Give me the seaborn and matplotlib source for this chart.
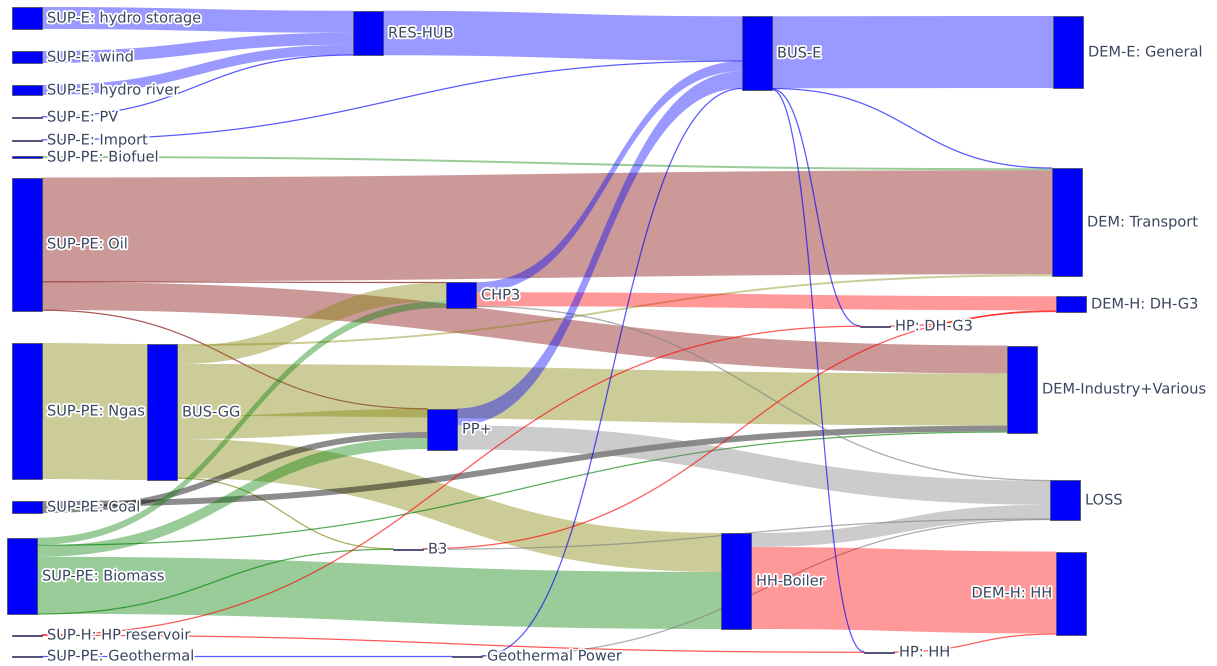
import numpy as np
import matplotlib
matplotlib.use('Agg')
import matplotlib.pyplot as plt
import matplotlib.patheffects as pe
import seaborn as sns

# ---- nodes ----
node_names = [
    'SUP-E: hydro storage', 'SUP-E: wind', 'SUP-E: hydro river', 'SUP-E: PV',
    'SUP-E: Import', 'SUP-PE: Biofuel', 'SUP-PE: Oil', 'SUP-PE: Ngas',
    'SUP-PE: Coal', 'SUP-PE: Biomass', 'SUP-H: HP reservoir', 'SUP-PE: Geothermal',
    'RES-HUB', 'BUS-GG', 'CHP3', 'PP+', 'B3', 'Geothermal Power',
    'BUS-E', 'HH-Boiler', 'HP: DH-G3', 'HP: HH',
    'DEM-E: General', 'DEM: Transport', 'DEM-H: DH-G3', 'DEM-Industry+Various',
    'LOSS', 'DEM-H: HH',
]
# node arrangement on the canvas (like plotly node.x / node.y), in pixels
node_left = [12, 12, 12, 12, 12, 12, 12, 12, 12, 7, 12, 12,
             353, 147, 446, 427, 393, 452,
             742, 721, 860, 864,
             1053, 1052, 1056, 1007, 1050, 1056]
node_center = [18, 57, 90, 117, 140, 157, 244, 411, 507, 576, 635, 656,
               33, 412, 295, 429, 549, 656,
               53, 581, 326, 652,
               52, 222, 304, 389, 500, 593]
label_left_side = ['DEM-H: HH']

# ---- links ----
link_source = [
    'SUP-E: hydro storage', 'SUP-E: wind', 'SUP-E: hydro river', 'SUP-E: PV',
    'RES-HUB', 'SUP-E: Import', 'SUP-PE: Biofuel',
    'SUP-PE: Oil', 'SUP-PE: Oil', 'SUP-PE: Oil', 'SUP-PE: Oil',
    'SUP-PE: Ngas',
    'BUS-GG', 'BUS-GG', 'BUS-GG', 'BUS-GG', 'BUS-GG', 'BUS-GG',
    'SUP-PE: Coal', 'SUP-PE: Coal',
    'SUP-PE: Biomass', 'SUP-PE: Biomass', 'SUP-PE: Biomass', 'SUP-PE: Biomass', 'SUP-PE: Biomass',
    'CHP3', 'CHP3', 'CHP3',
    'PP+', 'PP+',
    'B3', 'B3',
    'SUP-H: HP reservoir', 'SUP-H: HP reservoir',
    'SUP-PE: Geothermal', 'Geothermal Power', 'Geothermal Power',
    'HH-Boiler', 'HH-Boiler',
    'BUS-E', 'BUS-E', 'BUS-E', 'BUS-E',
    'HP: DH-G3', 'HP: HH',
]
link_target = [
    'RES-HUB', 'RES-HUB', 'RES-HUB', 'RES-HUB',
    'BUS-E', 'BUS-E', 'DEM: Transport',
    'DEM: Transport', 'CHP3', 'DEM-Industry+Various', 'PP+',
    'BUS-GG',
    'DEM: Transport', 'CHP3', 'DEM-Industry+Various', 'PP+', 'HH-Boiler', 'B3',
    'DEM-Industry+Various', 'PP+',
    'CHP3', 'DEM-Industry+Various', 'PP+', 'HH-Boiler', 'B3',
    'BUS-E', 'DEM-H: DH-G3', 'LOSS',
    'BUS-E', 'LOSS',
    'DEM-H: DH-G3', 'LOSS',
    'HP: DH-G3', 'HP: HH',
    'Geothermal Power', 'BUS-E', 'LOSS',
    'LOSS', 'DEM-H: HH',
    'DEM-E: General', 'DEM: Transport', 'HP: DH-G3', 'HP: HH',
    'DEM-H: DH-G3', 'DEM-H: HH',
]
link_value = [
    22, 12, 10, 0.5,
    44.5, 0.5, 2,
    104, 0.5, 28, 0.5,
    136,
    2, 18, 52, 23, 39, 0.5,
    6, 6,
    7, 1, 11, 57, 0.5,
    10, 14, 0.5,
    17, 24,
    0.5, 0.5,
    0.5, 0.5,
    1, 0.5, 0.5,
    14, 82,
    72, 0.5, 0.5, 0.5,
    1, 1,
]
link_kind = [
    'elec', 'elec', 'elec', 'elec',
    'elec', 'elec', 'bio',
    'oil', 'oil', 'oil', 'oil',
    'gas',
    'gas', 'gas', 'gas', 'gas', 'gas', 'gas',
    'coal', 'coal',
    'bio', 'bio', 'bio', 'bio', 'bio',
    'elec', 'heat', 'loss',
    'elec', 'loss',
    'heat', 'loss',
    'heat', 'heat',
    'elec', 'elec', 'loss',
    'loss', 'heat',
    'elec', 'elec', 'elec', 'elec',
    'heat', 'heat',
]

kind_color = {'elec': (0, 0, 1, 0.4), 'oil': (0.5, 0, 0, 0.4), 'gas': (0.5, 0.5, 0, 0.4),
              'bio': (0, 0.5, 0, 0.4), 'coal': (0, 0, 0, 0.45), 'heat': (1, 0, 0, 0.4),
              'loss': (0.5, 0.5, 0.5, 0.4)}

SCALE = 1.0       # px per unit
THICK = 30        # node thickness, px

sns.set_theme(style='white')
plt.rcParams['font.family'] = ['DejaVu Sans']

idx = {n: i for i, n in enumerate(node_names)}
n_nodes = len(node_names)
in_sum = np.zeros(n_nodes)
out_sum = np.zeros(n_nodes)
for s, t, v in zip(link_source, link_target, link_value):
    out_sum[idx[s]] += v
    in_sum[idx[t]] += v
node_h = np.maximum(np.maximum(in_sum, out_sum) * SCALE, 1.0)
node_top = np.array(node_center) - node_h / 2
node_left = np.array(node_left, dtype=float)

# stack link ends on each node (d3-sankey order: by top of the other node)
n_links = len(link_value)
src_y = np.zeros(n_links)
tgt_y = np.zeros(n_links)
for i in range(n_nodes):
    outs = [k for k in range(n_links) if idx[link_source[k]] == i]
    outs.sort(key=lambda k: node_top[idx[link_target[k]]])
    y = node_top[i]
    for k in outs:
        src_y[k] = y
        y += link_value[k] * SCALE
    ins = [k for k in range(n_links) if idx[link_target[k]] == i]
    ins.sort(key=lambda k: node_top[idx[link_source[k]]])
    y = node_top[i]
    for k in ins:
        tgt_y[k] = y
        y += link_value[k] * SCALE


def bezier(x0, y0, x1, y1, n=80):
    t = np.linspace(0, 1, n)
    xm = (x0 + x1) / 2
    x = (1 - t) ** 3 * x0 + 3 * (1 - t) ** 2 * t * xm + 3 * (1 - t) * t ** 2 * xm + t ** 3 * x1
    y = (1 - t) ** 3 * y0 + 3 * (1 - t) ** 2 * t * y0 + 3 * (1 - t) * t ** 2 * y1 + t ** 3 * y1
    return x, y


fig = plt.figure(figsize=(12.17, 6.66), dpi=100)
ax = fig.add_axes([0, 0, 1, 1])

for k in range(n_links):
    s, t = idx[link_source[k]], idx[link_target[k]]
    x0 = node_left[s] + THICK
    x1 = node_left[t]
    w = link_value[k] * SCALE
    col = kind_color[link_kind[k]]
    if w < 1.5:
        # hairline flows
        xs, ys = bezier(x0, src_y[k] + w / 2, x1, tgt_y[k] + w / 2)
        sns.lineplot(x=xs, y=ys, sort=False, estimator=None, ax=ax,
                     color=col[:3], alpha=min(col[3] + 0.25, 1), lw=0.9, zorder=1)
    else:
        xt, yt = bezier(x0, src_y[k], x1, tgt_y[k])
        xb, yb = bezier(x0, src_y[k] + w, x1, tgt_y[k] + w)
        ax.fill(np.concatenate([xt, xb[::-1]]), np.concatenate([yt, yb[::-1]]),
                color=col, lw=0, zorder=1)

ax.bar(node_left, node_h, width=THICK, bottom=node_top, align='edge',
       color='#0000ff', edgecolor='#444444', linewidth=0.5, zorder=3)

halo = [pe.withStroke(linewidth=2.5, foreground='white')]
for i, name in enumerate(node_names):
    yc = node_top[i] + node_h[i] / 2
    if name in label_left_side:
        ax.text(node_left[i] - 4, yc, name, ha='right', va='center', fontsize=10.5,
                color='#3a4660', path_effects=halo, zorder=4)
    else:
        ax.text(node_left[i] + THICK + 5, yc, name, ha='left', va='center', fontsize=10.5,
                color='#3a4660', path_effects=halo, zorder=4)

ax.set_xlim(0, 1217)
ax.set_ylim(666, 0)
ax.axis('off')
fig.savefig('out.png', dpi=100, facecolor='white')
